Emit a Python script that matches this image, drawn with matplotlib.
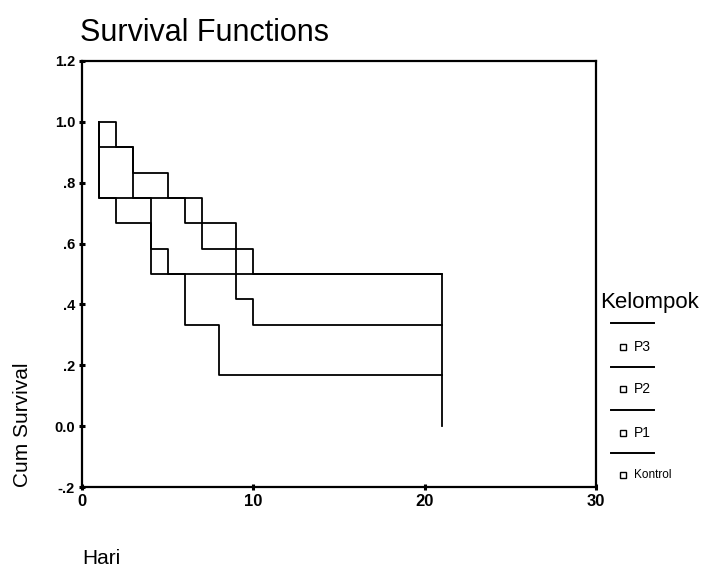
import matplotlib
matplotlib.use("Agg")
import matplotlib.pyplot as plt
from matplotlib.lines import Line2D

plt.rcParams['font.family'] = ['Liberation Sans', 'DejaVu Sans']

# survival step curves (time, cum survival)
p3_t = [1, 2, 3, 5, 7, 10, 21]
p3_s = [1.0, 0.917, 0.833, 0.75, 0.583, 0.5, 0.5]
p2_t = [1, 1, 3, 6, 9, 10, 21]
p2_s = [1.0, 0.917, 0.75, 0.667, 0.417, 0.333, 0.333]
p1_t = [1, 1, 4, 5, 21, 21]
p1_s = [1.0, 0.75, 0.583, 0.5, 0.5, 0.0]
kontrol_t = [1, 1, 2, 4, 6, 8, 21]
kontrol_s = [1.0, 0.75, 0.667, 0.5, 0.333, 0.167, 0.167]

groups = ['P3', 'P2', 'P1', 'Kontrol']
yticks = [-0.2, 0.0, 0.2, 0.4, 0.6, 0.8, 1.0, 1.2]
ytick_labels = ['-.2', '0.0', '.2', '.4', '.6', '.8', '1.0', '1.2']
xticks = [0, 10, 20, 30]

fig = plt.figure(figsize=(7.13, 5.69), dpi=100)
ax = fig.add_axes([0.115, 0.144, 0.721, 0.749])

for t, s in [(p3_t, p3_s), (p2_t, p2_s), (p1_t, p1_s), (kontrol_t, kontrol_s)]:
    ax.plot(t, s, drawstyle='steps-post', color='black', lw=1.3)

ax.set_xlim(0, 30)
ax.set_ylim(-0.2, 1.2)
ax.set_xticks(xticks)
ax.set_xticklabels([str(v) for v in xticks], fontsize=12, fontweight='bold')
ax.set_yticks(yticks)
ax.set_yticklabels(ytick_labels, fontsize=10.5, fontweight='bold')
ax.tick_params(direction='inout', length=4, width=2.2, pad=3)
for sp in ax.spines.values():
    sp.set_linewidth(1.6)

fig.text(0.112, 0.942, 'Survival Functions', fontsize=22, va='center', ha='left')
fig.text(0.031, 0.253, 'Cum Survival', fontsize=15, rotation=90, va='center', ha='center')
fig.text(0.116, 0.019, 'Hari', fontsize=15, va='center', ha='left')

# legend
fig.text(0.842, 0.469, 'Kelompok', fontsize=16, va='center', ha='left')
line_y = [323, 367, 410, 453]
label_y = [347, 389, 433, 475]
for g, ly, ty in zip(groups, line_y, label_y):
    fig.add_artist(Line2D([611 / 713, 654 / 713], [1 - ly / 569, 1 - ly / 569],
                          color='black', lw=1.4, transform=fig.transFigure))
    fig.add_artist(Line2D([623 / 713], [1 - ty / 569], marker='s', ms=4,
                          mfc='white', mec='black', mew=1.0, ls='none',
                          transform=fig.transFigure))
    fig.text(634 / 713, 1 - ty / 569, g, fontsize=10 if g != 'Kontrol' else 8.5,
             va='center', ha='left')

fig.savefig('out.png', dpi=100)
